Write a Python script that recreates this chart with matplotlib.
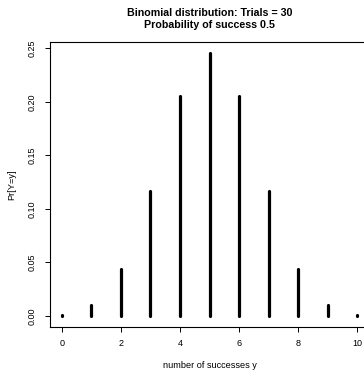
import matplotlib
matplotlib.use("Agg")
import matplotlib.pyplot as plt

successes = [0, 1, 2, 3, 4, 5, 6, 7, 8, 9, 10]
probabilities = [0.001, 0.0098, 0.0439, 0.1172, 0.2051, 0.2461, 0.2051, 0.1172, 0.0439, 0.0098, 0.001]
x_ticks = [0, 2, 4, 6, 8, 10]
y_ticks = [0.00, 0.05, 0.10, 0.15, 0.20, 0.25]
y_tick_labels = ["0.00", "0.05", "0.10", "0.15", "0.20", "0.25"]
title_line1 = "Binomial distribution: Trials = 30"
title_line2 = "Probability of success 0.5"
x_label = "number of successes y"
y_label = "Pr[Y=y]"

plt.rcParams['font.family'] = ['Liberation Sans', 'DejaVu Sans']

W, H = 364, 370
fig = plt.figure(figsize=(W / 100, H / 100), dpi=100)
left, right, top, bottom = 50, 369, 42, 326.5
ax = fig.add_axes([left / W, 1 - bottom / H, (right - left) / W, (bottom - top) / H])

ax.vlines(successes, 0, probabilities, colors='black', linewidth=2.3, capstyle='round')

ax.set_xlim(-0.4, 10.4)
ymax = max(probabilities)
ax.set_ylim(-0.04 * ymax, 1.04 * ymax)

ax.set_xticks(x_ticks)
ax.set_xticklabels([str(t) for t in x_ticks], fontsize=6.5)
ax.set_yticks(y_ticks)
ax.set_yticklabels(y_tick_labels, fontsize=6.5, rotation=90, va='center')
ax.tick_params(axis='both', length=3.9, width=0.7, colors='black')
ax.tick_params(axis='x', pad=5.0)
ax.tick_params(axis='y', pad=5.6)

for s in ax.spines.values():
    s.set_linewidth(0.8)

def fx(px):
    return px / W

def fy(py):
    return 1 - py / H

ax.set_xlabel(x_label, fontsize=6.6)
ax.xaxis.set_label_coords(fx((left + right) / 2), fy(365), transform=fig.transFigure)
ax.xaxis.label.set_va('center')
ax.set_ylabel(y_label, fontsize=6.6)
ax.yaxis.set_label_coords(fx(12), fy((top + bottom) / 2), transform=fig.transFigure)
ax.yaxis.label.set_va('center')

cx = fx((left + right) / 2)
fig.text(cx, fy(16), title_line1, ha='center', va='baseline', fontsize=7.7, fontweight='bold')
fig.text(cx, fy(27.5), title_line2, ha='center', va='baseline', fontsize=7.7, fontweight='bold')

fig.savefig("out.png", dpi=100)
